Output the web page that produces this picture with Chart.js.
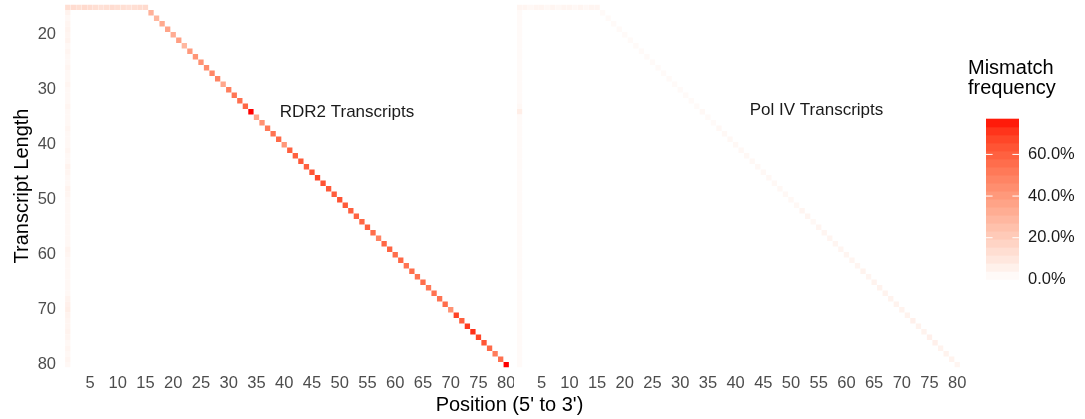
<!DOCTYPE html>
<html>
<head>
<meta charset="utf-8">
<script src="https://cdn.jsdelivr.net/npm/chart.js@4.4.1/dist/chart.umd.min.js"></script>
<style>
  html, body { margin: 0; padding: 0; background: #fff; }
  #fig { position: relative; width: 1085px; height: 419px; overflow: hidden;
         font-family: "Liberation Sans", Arial, sans-serif; }
  .panel { position: absolute; top: 0; height: 419px; }
  #rdr2Wrap { left: 0; width: 514px; }
  #polWrap { left: 513px; width: 572px; }
  #xTitle { position: absolute; left: 0; width: 1019px; top: 393px; text-align: center;
            font-size: 20px; line-height: 23px; color: #000; }
</style>
</head>
<body>
<div id="fig">
  <div class="panel" id="rdr2Wrap"><canvas id="rdr2Chart"></canvas></div>
  <div class="panel" id="polWrap"><canvas id="polChart"></canvas></div>
  <div id="xTitle">Position (5' to 3')</div>
</div>
<script>
// axis ticks
const xTicks = [5, 10, 15, 20, 25, 30, 35, 40, 45, 50, 55, 60, 65, 70, 75, 80];
const yTicks = [20, 30, 40, 50, 60, 70, 80];
const legendBreaks = [0, 0.2, 0.4, 0.6];
const maxFreq = 0.77;  // top of the colour scale

// RDR2 - length 15 row, positions 1..15
const rdr2TopRow = [0.13, 0.14, 0.13, 0.15, 0.14, 0.13, 0.12, 0.13, 0.14, 0.13, 0.13, 0.12, 0.13, 0.14, 0.15];
// RDR2 - last position of each transcript, lengths 16..80
const rdr2Diagonal = [
  0.31, 0.29, 0.34, 0.36, 0.33, 0.38, 0.29, 0.40, 0.42, 0.43,
  0.45, 0.47, 0.48, 0.35, 0.50, 0.53, 0.55, 0.58, 0.77, 0.35,
  0.43, 0.52, 0.54, 0.57, 0.41, 0.60, 0.60, 0.62, 0.60, 0.63,
  0.67, 0.64, 0.62, 0.61, 0.64, 0.62, 0.60, 0.59, 0.58, 0.60,
  0.56, 0.48, 0.58, 0.59, 0.56, 0.58, 0.54, 0.56, 0.54, 0.56,
  0.52, 0.54, 0.54, 0.56, 0.43, 0.68, 0.60, 0.70, 0.72, 0.67,
  0.63, 0.57, 0.51, 0.55, 0.77
];
// RDR2 - position 1, lengths 16..80
const rdr2FirstCol = [
  0.05, 0.03, 0.04, 0.05, 0.04, 0.05, 0.03, 0.04, 0.03, 0.03,
  0.04, 0.03, 0.03, 0.04, 0.03, 0.03, 0.03, 0.04, 0.03, 0.03,
  0.03, 0.04, 0.03, 0.03, 0.03, 0.04, 0.03, 0.03, 0.05, 0.04,
  0.03, 0.03, 0.05, 0.04, 0.03, 0.03, 0.03, 0.03, 0.03, 0.03,
  0.03, 0.03, 0.03, 0.05, 0.04, 0.03, 0.03, 0.03, 0.03, 0.03,
  0.03, 0.03, 0.05, 0.06, 0.07, 0.05, 0.04, 0.04, 0.05, 0.04,
  0.03, 0.04, 0.03, 0.04, 0.03
];

// Pol IV
const polTopRow = [0.04, 0.04, 0.03, 0.04, 0.04, 0.03, 0.04, 0.03, 0.04, 0.04, 0.03, 0.04, 0.03, 0.04, 0.04];
const polDiagonal = [
  0.02, 0.02, 0.02, 0.02, 0.02, 0.02, 0.02, 0.02, 0.02, 0.02,
  0.02, 0.02, 0.02, 0.02, 0.02, 0.02, 0.02, 0.02, 0.03, 0.02,
  0.02, 0.03, 0.03, 0.03, 0.03, 0.03, 0.03, 0.03, 0.03, 0.03,
  0.03, 0.03, 0.03, 0.03, 0.03, 0.03, 0.04, 0.04, 0.03, 0.04,
  0.04, 0.04, 0.04, 0.04, 0.04, 0.04, 0.04, 0.05, 0.04, 0.05,
  0.05, 0.05, 0.05, 0.05, 0.05, 0.05, 0.06, 0.05, 0.05, 0.06,
  0.06, 0.05, 0.05, 0.05, 0.04
];
const polFirstCol = [
  0.02, 0.02, 0.02, 0.02, 0.02, 0.02, 0.02, 0.02, 0.02, 0.02,
  0.02, 0.02, 0.02, 0.02, 0.02, 0.02, 0.02, 0.03, 0.07, 0.02,
  0.02, 0.02, 0.02, 0.02, 0.02, 0.02, 0.02, 0.02, 0.02, 0.02,
  0.02, 0.02, 0.02, 0.02, 0.02, 0.02, 0.02, 0.02, 0.02, 0.02,
  0.02, 0.02, 0.02, 0.02, 0.02, 0.02, 0.02, 0.02, 0.02, 0.02,
  0.02, 0.02, 0.02, 0.02, 0.02, 0.02, 0.02, 0.02, 0.02, 0.02,
  0.02, 0.02, 0.02, 0.02, 0.02
];

// white -> red, interpolated in Lab like ggplot's scale_fill_gradient
function toLinear(c) { c /= 255; return c <= 0.04045 ? c / 12.92 : Math.pow((c + 0.055) / 1.055, 2.4); }
function toSrgb(c) {
  c = c <= 0.0031308 ? 12.92 * c : 1.055 * Math.pow(c, 1 / 2.4) - 0.055;
  return Math.round(Math.max(0, Math.min(1, c)) * 255);
}
function rgbToLab(rgb) {
  const [r, g, b] = rgb.map(toLinear);
  const X = (0.4124 * r + 0.3576 * g + 0.1805 * b) / 0.95047;
  const Y = 0.2126 * r + 0.7152 * g + 0.0722 * b;
  const Z = (0.0193 * r + 0.1192 * g + 0.9505 * b) / 1.08883;
  const f = t => t > 0.008856 ? Math.cbrt(t) : 7.787 * t + 16 / 116;
  return [116 * f(Y) - 16, 500 * (f(X) - f(Y)), 200 * (f(Y) - f(Z))];
}
function labToRgb([L, a, bb]) {
  const fy = (L + 16) / 116, fx = fy + a / 500, fz = fy - bb / 200;
  const inv = t => t * t * t > 0.008856 ? t * t * t : (t - 16 / 116) / 7.787;
  const X = inv(fx) * 0.95047, Y = inv(fy), Z = inv(fz) * 1.08883;
  const r = 3.2406 * X - 1.5372 * Y - 0.4986 * Z;
  const g = -0.9689 * X + 1.8758 * Y + 0.0415 * Z;
  const b = 0.0557 * X - 0.2040 * Y + 1.0570 * Z;
  return [toSrgb(r), toSrgb(g), toSrgb(b)];
}
const lowLab = rgbToLab([255, 255, 255]);
const highLab = rgbToLab([255, 0, 0]);
function fillFor(v) {
  const t = Math.max(0, Math.min(1, v / maxFreq));
  const lab = lowLab.map((c, i) => c + (highLab[i] - c) * t);
  const [r, g, b] = labToRgb(lab);
  return `rgb(${r},${g},${b})`;
}

function buildCells(topRow, diagonal, firstCol) {
  const cells = [];
  topRow.forEach((v, i) => cells.push({ x: i + 1, y: 15, v }));
  firstCol.forEach((v, i) => cells.push({ x: 1, y: 16 + i, v }));
  diagonal.forEach((v, i) => cells.push({ x: 16 + i, y: 16 + i, v }));
  return cells;
}

const FONT = '"Liberation Sans", Arial, sans-serif';
const PLOT_TOP = 4.5;
const X_AXIS_H = 51.5;

// text label inside a panel, placed in data coordinates
const panelLabel = {
  id: 'panelLabel',
  afterDatasetsDraw(chart, args, opts) {
    const { ctx, scales } = chart;
    ctx.save();
    ctx.font = '17px ' + FONT;
    ctx.fillStyle = '#1a1a1a';
    ctx.textAlign = 'center';
    ctx.textBaseline = 'middle';
    ctx.fillText(opts.text, scales.x.getPixelForValue(opts.x), scales.y.getPixelForValue(opts.y));
    ctx.restore();
  }
};

// colour bar legend on the right of the Pol IV panel
const colourBar = {
  id: 'colourBar',
  afterDraw(chart) {
    const ctx = chart.ctx;
    const barX = 473, barW = 33, barTop = 119, barBottom = 279.4;
    const nbin = 20, h = (barBottom - barTop) / nbin;
    ctx.save();
    for (let i = 0; i < nbin; i++) {
      ctx.fillStyle = fillFor((i + 0.5) / nbin * maxFreq);
      ctx.fillRect(barX, barBottom - (i + 1) * h - 0.3, barW, h + 0.6);
    }
    ctx.strokeStyle = '#fff';
    ctx.lineWidth = 1;
    ctx.font = '16.5px ' + FONT;
    ctx.fillStyle = '#1a1a1a';
    ctx.textBaseline = 'middle';
    legendBreaks.forEach(b => {
      const y = barBottom - b / maxFreq * (barBottom - barTop);
      if (b > 0) {
        ctx.beginPath();
        ctx.moveTo(barX, y); ctx.lineTo(barX + 6.6, y);
        ctx.moveTo(barX + barW - 6.6, y); ctx.lineTo(barX + barW, y);
        ctx.stroke();
      }
      ctx.fillText((b * 100).toFixed(1) + '%', 515, y);
    });
    ctx.font = '20px ' + FONT;
    ctx.fillStyle = '#000';
    ctx.textBaseline = 'alphabetic';
    ctx.fillText('Mismatch', 455, 73.5);
    ctx.fillText('frequency', 455, 93.5);
    ctx.restore();
  }
};

function makePanel(canvasId, cells, label, padding, showY, extraPlugins) {
  const ctx = document.getElementById(canvasId).getContext('2d');
  return new Chart(ctx, {
    type: 'scatter',
    data: {
      datasets: [{
        data: cells,
        pointStyle: 'rect',
        pointRadius: 3.75,
        pointHoverRadius: 3.75,
        pointBorderWidth: 0,
        pointBackgroundColor: c => fillFor(c.raw.v)
      }]
    },
    options: {
      responsive: true,
      maintainAspectRatio: false,
      animation: false,
      events: [],
      layout: { padding: padding },
      plugins: {
        legend: { display: false },
        tooltip: { enabled: false },
        panelLabel: label
      },
      scales: {
        x: {
          type: 'linear',
          min: 0.5,
          max: 80.5,
          grid: { display: false, drawTicks: false },
          border: { display: false },
          afterBuildTicks: s => { s.ticks = xTicks.map(v => ({ value: v })); },
          afterFit: s => { s.height = X_AXIS_H; s.paddingLeft = 0; s.paddingRight = 0; },
          ticks: { color: '#4d4d4d', padding: 6, maxRotation: 0, autoSkip: false,
                   font: { size: 16.5, family: FONT } }
        },
        y: {
          type: 'linear',
          display: showY,
          reverse: true,
          min: 14.5,
          max: 80.5,
          grid: { display: false, drawTicks: false },
          border: { display: false },
          afterBuildTicks: s => { s.ticks = yTicks.map(v => ({ value: v })); },
          afterFit: s => {
            if (s.options.display) s.width = 65;
            s.paddingTop = 0; s.paddingBottom = 0;
          },
          ticks: { color: '#4d4d4d', padding: 9, autoSkip: false,
                   font: { size: 16.5, family: FONT } },
          title: { display: true, text: 'Transcript Length', color: '#000',
                   padding: { top: 10, bottom: 0 },
                   font: { size: 20, family: FONT, lineHeight: 1.2 } }
        }
      }
    },
    plugins: [panelLabel].concat(extraPlugins)
  });
}

makePanel('rdr2Chart', buildCells(rdr2TopRow, rdr2Diagonal, rdr2FirstCol),
  { text: 'RDR2 Transcripts', x: 51.3, y: 34.1 },
  { top: PLOT_TOP, left: 0, right: 5, bottom: 0 }, true, []);

makePanel('polChart', buildCells(polTopRow, polDiagonal, polFirstCol),
  { text: 'Pol IV Transcripts', x: 54.6, y: 33.8 },
  { top: PLOT_TOP, left: 3, right: 125, bottom: 0 }, false, [colourBar]);
</script>
</body>
</html>
